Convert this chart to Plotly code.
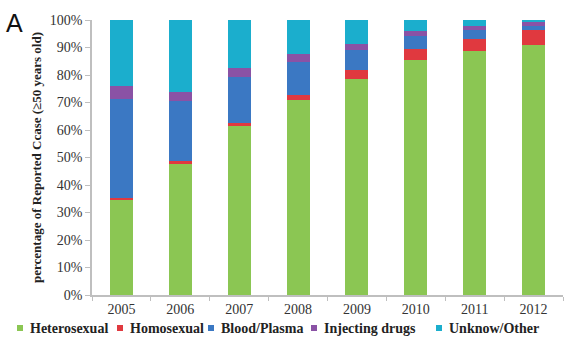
import plotly.graph_objects as go

# Share of reported cases (aged >= 50) by transmission route, per year
years = ["2005", "2006", "2007", "2008", "2009", "2010", "2011", "2012"]
heterosexual = [34.8, 47.8, 61.3, 70.8, 78.4, 85.3, 88.8, 91.0]
homosexual = [0.4, 0.9, 1.1, 2.0, 3.3, 4.1, 4.2, 5.2]
blood_plasma = [36.2, 21.9, 16.7, 11.8, 7.5, 4.9, 3.5, 1.7]
injecting_drugs = [4.7, 3.3, 3.5, 3.1, 2.2, 1.7, 1.4, 1.5]
unknown_other = [23.9, 26.1, 17.4, 12.3, 8.6, 4.0, 2.1, 0.6]

series_names = ["Heterosexual", "Homosexual", "Blood/Plasma", "Injecting drugs", "Unknow/Other"]
series_values = [heterosexual, homosexual, blood_plasma, injecting_drugs, unknown_other]
colors = ["#8BC653", "#E0393F", "#3B78C3", "#8A52A5", "#1BAECD"]
y_ticks = [0, 10, 20, 30, 40, 50, 60, 70, 80, 90, 100]
y_tick_labels = [f"{v}%" for v in y_ticks]

W, H = 568, 349
L, R, T, B = 92, 5, 20, 54
plot_w = W - L - R
plot_h = H - T - B

fig = go.Figure()
for name, vals, col in zip(series_names, series_values, colors):
    fig.add_trace(go.Bar(x=years, y=vals, name=name, marker_color=col,
                         marker_line_width=0, showlegend=False))

serif = "Liberation Serif"
axis_col = "#BFBFBF"

fig.update_layout(
    width=W, height=H,
    margin=dict(l=L, r=R, t=T, b=B),
    paper_bgcolor="white", plot_bgcolor="white",
    barmode="stack", bargap=0.61,
    font=dict(family=serif, size=13, color="#333333"),
    xaxis=dict(type="category", showline=True, linecolor=axis_col, linewidth=1.5,
               ticks="outside", tickson="boundaries", ticklen=4, tickcolor=axis_col,
               showgrid=False, tickfont=dict(family=serif, size=14, color="#333333")),
    yaxis=dict(range=[0, 100], tickmode="array", tickvals=y_ticks, ticktext=y_tick_labels,
               showline=True, linecolor=axis_col, linewidth=1.5,
               ticks="outside", ticklen=5, tickcolor=axis_col, showgrid=False,
               zeroline=False,
               tickfont=dict(family=serif, size=14, color="#333333"),
               title=dict(text="<b>percentage of Reported Ccase (≥50 years old)</b>",
                          font=dict(family=serif, size=13, color="#222222"),
                          standoff=5)),
)

# Panel letter
fig.add_annotation(text="A", xref="paper", yref="paper", x=(4 - L) / plot_w, y=1 + (T - 7) / plot_h,
                   xanchor="left", yanchor="top", showarrow=False,
                   font=dict(family="Liberation Sans", size=25, color="#111111"))

# Legend row along the bottom: small square swatch followed by bold label
legend_text_px = [28, 128, 219, 322, 447]
legend_y_px = 328


def px_to_paper_x(px):
    return (px - L) / plot_w


def px_to_paper_y(py):
    return (H - B - py) / plot_h


for name, col, tx in zip(series_names, colors, legend_text_px):
    fig.add_shape(type="rect", xref="paper", yref="paper",
                  x0=px_to_paper_x(tx - 11), x1=px_to_paper_x(tx - 5),
                  y0=px_to_paper_y(legend_y_px + 3), y1=px_to_paper_y(legend_y_px - 3),
                  fillcolor=col, line_width=0)
    fig.add_annotation(text="<b>" + name + "</b>", xref="paper", yref="paper",
                       x=px_to_paper_x(tx), y=px_to_paper_y(legend_y_px),
                       xanchor="left", yanchor="middle", showarrow=False,
                       font=dict(family=serif, size=14, color="#222222"))

fig.write_html("out.html")
